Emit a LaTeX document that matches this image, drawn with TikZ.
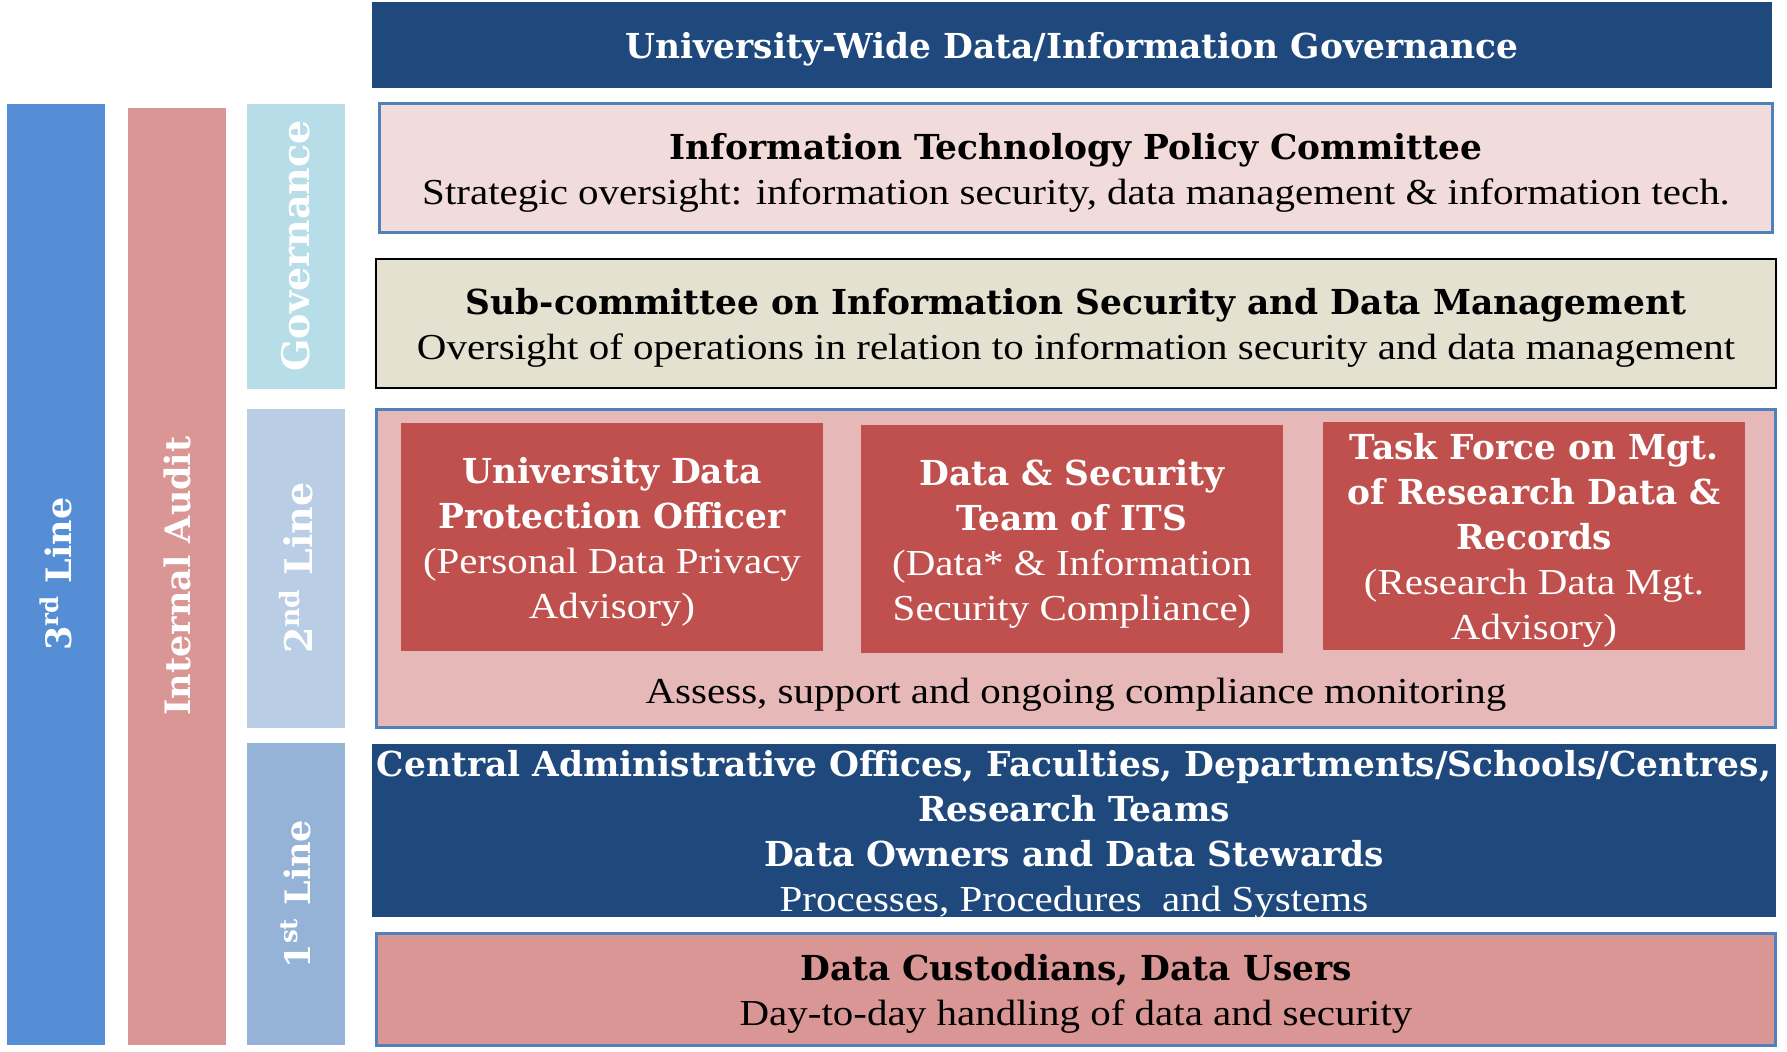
\documentclass[tikz,border=0pt]{standalone}
\usepackage{fontspec}
\setmainfont{Liberation Serif}[FakeStretch=1.12]
\newfontfamily\headfont{DejaVu Serif}
\usetikzlibrary{positioning}
\definecolor{navy}{HTML}{1F497D}
\definecolor{edgeblue}{HTML}{4F81BD}
\definecolor{thirdblue}{HTML}{558ED5}
\definecolor{auditred}{HTML}{D99694}
\definecolor{govcyan}{HTML}{B7DEE8}
\definecolor{secondblue}{HTML}{B9CDE5}
\definecolor{firstblue}{HTML}{95B3D7}
\definecolor{pinkfill}{HTML}{F2DCDB}
\definecolor{sandfill}{HTML}{E4E1D1}
\definecolor{rosefill}{HTML}{E6B9B8}
\definecolor{brick}{HTML}{C0504D}
\newcommand{\hd}[1]{{\headfont\bfseries\fontsize{17.2}{22.5}\selectfont #1}}
% a taller first line pushes the text block down a little
\newcommand{\lift}{\rule{0pt}{17.8pt}}

\begin{document}
\begin{tikzpicture}[x=1pt,y=-1pt,
  txt/.style={font=\fontsize{18.3}{22.5}\selectfont,align=center,inner sep=0pt,
    execute at begin node={\rule{0pt}{17.5pt}}},
  bar/.style={rotate=90,minimum height=49pt,inner sep=0pt,text=white,
    font=\fontsize{17.5}{20}\selectfont\headfont\bfseries},
  panel/.style={txt,minimum width=#1,minimum height=64.5pt},
  rim/.style={draw=edgeblue,line width=1.5pt},
  unit/.style={txt,fill=brick,text=white,minimum width=211pt,minimum height=114pt}]

\useasboundingbox (0,0) rectangle (893.5,525.5);

% side bars for the three lines
\node[bar,fill=thirdblue,minimum width=470.5pt] (L3) at (28,287) {3\textsuperscript{rd} Line};
\node[bar,fill=auditred,minimum width=468.5pt] (IA) at (88.5,288) {Internal Audit};
\node[bar,fill=govcyan,minimum width=142.5pt,font=\fontsize{19}{20}\selectfont\headfont\bfseries] (GOV) at (148,123) {Governance};
\node[bar,fill=secondblue,minimum width=159.5pt,font=\fontsize{19}{20}\selectfont\headfont\bfseries] (L2) at (148,284) {2\textsuperscript{nd} Line};
\node[bar,fill=firstblue,minimum width=151pt] (L1) at (148,447) {1\textsuperscript{st} Line};

% governance
\node[txt,fill=navy,text=white,minimum width=700pt,minimum height=43pt] (UW) at (536,22.5)
  {\hd{University-Wide Data/Information Governance}};
\node[panel=696.5pt,rim,fill=pinkfill] (ITPC) at (538,84)
  {\lift\hd{Information Technology Policy Committee}\\
   Strategic oversight: information security, data management \& information tech.};
\node[panel=700pt,draw=black,line width=1pt,fill=sandfill] (SUB) at (538,161.5)
  {\lift\hd{Sub-committee on Information Security and Data Management}\\
   Oversight of operations in relation to information security and data management};

% second line
\node[rim,fill=rosefill,minimum width=699.5pt,minimum height=159pt] (MON) at (538,284) {};
\node[unit] (DPO) at (306,268.5)
  {\lift\hd{University Data}\\ \hd{Protection Officer}\\ (Personal Data Privacy\\ Advisory)};
\node[unit] (ITS) at (536,269.5)
  {\lift\hd{Data \& Security}\\ \hd{Team of ITS}\\ (Data* \& Information\\ Security Compliance)};
\node[unit] (TF) at (767,268)
  {\lift\hd{Task Force on Mgt.}\\ \hd{of Research Data \&}\\ \hd{Records}\\ (Research Data Mgt.\\ Advisory)};
\node[txt] (ASM) at (538,345) {Assess, support and ongoing compliance monitoring};

% first line
\node[fill=navy,minimum width=702pt,minimum height=86.5pt] (OWN) at (537,415) {};
\node[txt,text=white] (OWNtxt) at ([yshift=-2.3pt]OWN.center)
  {\hd{Central Administrative Offices, Faculties, Departments/Schools/Centres,}\\
   \hd{Research Teams}\\ \hd{Data Owners and Data Stewards}\\
   Processes, Procedures\ \ and Systems};
\node[txt,rim,fill=auditred,minimum width=699.5pt,minimum height=56pt] (CUS) at (538,494.5)
  {\lift\hd{Data Custodians, Data Users}\\ Day-to-day handling of data and security};
\end{tikzpicture}
\end{document}
